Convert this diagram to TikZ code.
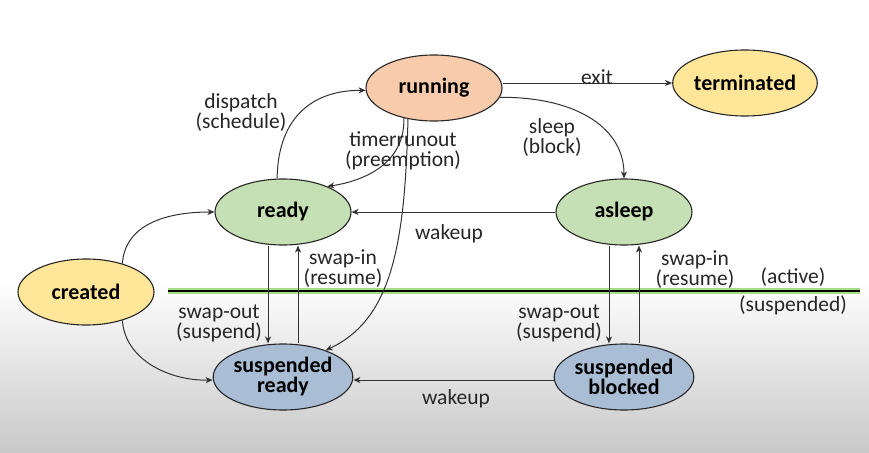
\documentclass[tikz,border=0pt]{standalone}
\usepackage{fontspec}
\setmainfont{Carlito}
\usetikzlibrary{shapes.geometric,arrows.meta}
\definecolor{cRun}{HTML}{F8CBAD}
\definecolor{cYel}{HTML}{FFE699}
\definecolor{cGrn}{HTML}{C5E0B4}
\definecolor{cBlu}{HTML}{A9BDD5}
\definecolor{cLine}{HTML}{333333}
\definecolor{cGlow}{HTML}{A9DC86}
\definecolor{cBgEnd}{HTML}{C9C9C9}
\tikzset{
  state/.style={ellipse,draw=black!85,line width=1.1pt,minimum width=136pt,minimum height=66pt,inner sep=0pt,align=center,font=\fontsize{22}{20}\selectfont\bfseries},
  arr/.style={draw=cLine,line width=1pt,-{Stealth[length=7pt,width=6pt,inset=2pt]}},
  lbl/.style={align=center,inner sep=0pt,font=\fontsize{21.5}{20}\selectfont,text=black!85}
}
\begin{document}
\begin{tikzpicture}[x=1pt,y=-1pt]
\useasboundingbox (0,0) rectangle (869,452);
\fill[white] (0,0) rectangle (869,280);
\shade[top color=white,bottom color=cBgEnd] (0,280) rectangle (869,452);
% separator
\draw[cGlow,line width=6pt] (168,291) -- (860,291);
\draw[black,line width=1.6pt] (168,291) -- (860,291);
% states
\node[state,fill=cRun] (running) at (434,88) {running};
\node[state,fill=cYel] (terminated) at (745,83) {terminated};
\node[state,fill=cGrn] (ready) at (283,212) {ready};
\node[state,fill=cGrn] (asleep) at (624,212) {asleep};
\node[state,fill=cYel] (created) at (86,292) {created};
\node[state,fill=cBlu] (sready) at (283,377) {suspended\\ready};
\node[state,fill=cBlu] (sblocked) at (624,377) {suspended\\blocked};
% edges
\draw[arr] (running.east |- terminated.west) -- (terminated.west);
\draw[arr] (running.352) .. controls (580,97) and (624,130) .. (asleep.north);
\draw[arr] (ready.100) .. controls (278,115) and (315,90) .. (running.182);
\draw[arr] (running.225) .. controls (405,160) and (370,180) .. (ready.30);
\draw[arr] (running.230) .. controls (405,250) and (390,320) .. (sready.32);
\draw[arr] (asleep.west) -- (ready.east);
\draw[arr] (created.38) .. controls (125,225) and (165,212) .. (ready.west);
\draw[arr] (created.-38) .. controls (125,360) and (170,381) .. ([yshift=-3pt]sready.west);
\draw[arr] ([xshift=-15pt]ready.south) -- ([xshift=-15pt]sready.north);
\draw[arr] ([xshift=15pt]sready.north) -- ([xshift=15pt]ready.south);
\draw[arr] ([xshift=-15pt]asleep.south) -- ([xshift=-15pt]sblocked.north);
\draw[arr] ([xshift=15pt]sblocked.north) -- ([xshift=15pt]asleep.south);
\draw[arr] ([yshift=-3pt]sblocked.west) -- ([yshift=-3pt]sready.east);
% labels
\node[lbl] (lexit) at (597,77) {exit};
\node[lbl] (lsleep) at (552,138) {sleep\\(block)};
\node[lbl] (ldisp) at (241,113) {dispatch\\(schedule)};
\node[lbl] (ltimer) at (403,151) {timerrunout\\(preemption)};
\node[lbl] (lwake1) at (449,234) {wakeup};
\node[lbl] (lsin1) at (343,269) {swap-in\\(resume)};
\node[lbl] (lsout1) at (219,323) {swap-out\\(suspend)};
\node[lbl] (lsin2) at (695,270) {swap-in\\(resume)};
\node[lbl] (lsout2) at (559,323) {swap-out\\(suspend)};
\node[lbl] (lact) at (793,277) {(active)};
\node[lbl] (lsusp) at (793,305) {(suspended)};
\node[lbl] (lwake2) at (456,399) {wakeup};
\end{tikzpicture}
\end{document}
